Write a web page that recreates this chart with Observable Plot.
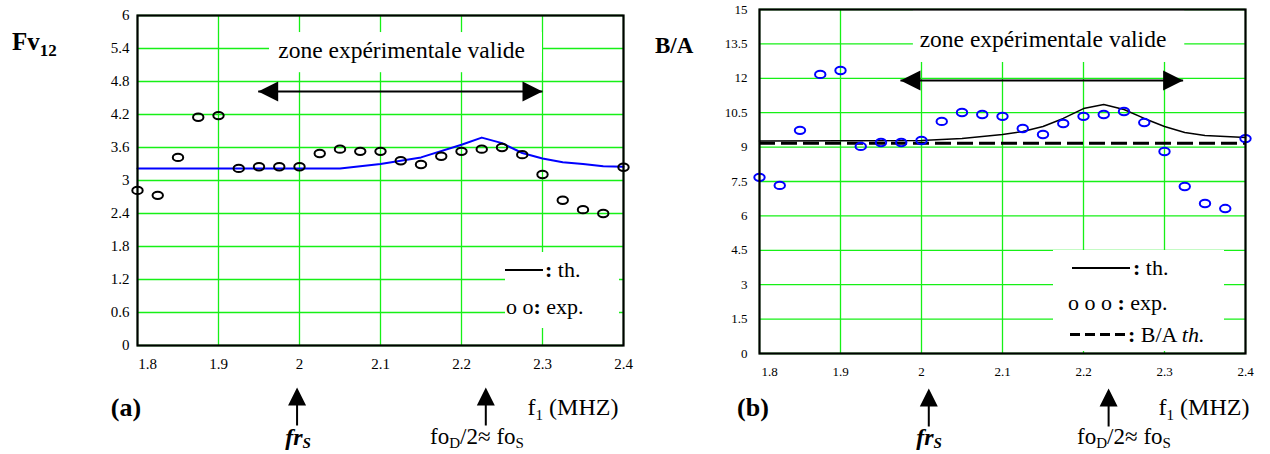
<!DOCTYPE html>
<html>
<head>
<meta charset="utf-8">
<script src="https://cdn.jsdelivr.net/npm/d3@7"></script>
<script src="https://cdn.jsdelivr.net/npm/@observablehq/plot@0.6"></script>
<style>
  body { margin: 0; background: #fff; }
  #wrap { position: relative; width: 1270px; height: 454px; overflow: hidden; font-family: "Liberation Serif", "Times New Roman", serif; color: #000; }
  #wrap svg { position: absolute; top: 0; }
  .t { position: absolute; white-space: nowrap; line-height: 1; }
  .c { transform: translate(-50%, -50%); }
  .lg { position: absolute; background: #fff; }
</style>
</head>
<body>
<div id="wrap"></div>
<script>
// ---------- data ----------
const freqs = [1.8, 1.825, 1.85, 1.875, 1.9, 1.925, 1.95, 1.975, 2.0, 2.025, 2.05, 2.075, 2.1,
               2.125, 2.15, 2.175, 2.2, 2.225, 2.25, 2.275, 2.3, 2.325, 2.35, 2.375, 2.4];
const fvExp = [2.82, 2.73, 3.42, 4.15, 4.18, 3.22, 3.25, 3.25, 3.25, 3.49, 3.57, 3.53, 3.53,
               3.36, 3.29, 3.44, 3.53, 3.57, 3.6, 3.47, 3.11, 2.64, 2.47, 2.4, 3.24];
const baExp = [7.68, 7.33, 9.73, 12.17, 12.34, 9.03, 9.2, 9.2, 9.29, 10.12, 10.51, 10.42, 10.34,
               9.81, 9.55, 10.03, 10.34, 10.42, 10.55, 10.07, 8.81, 7.28, 6.54, 6.32, 9.37];

const fvThFreq = [1.8, 2.05, 2.1, 2.15, 2.2, 2.225, 2.25, 2.275, 2.3, 2.325, 2.35, 2.375, 2.4];
const fvTh     = [3.22, 3.22, 3.3, 3.42, 3.65, 3.78, 3.68, 3.5, 3.4, 3.33, 3.3, 3.26, 3.25];

const baThFreq = [1.8, 2.0, 2.05, 2.1, 2.125, 2.15, 2.175, 2.2, 2.225, 2.25, 2.275, 2.3, 2.325, 2.35, 2.4];
const baTh     = [9.27, 9.29, 9.38, 9.55, 9.68, 9.9, 10.25, 10.68, 10.86, 10.64, 10.25, 9.9, 9.64, 9.51, 9.42];
const baThConst = 9.17;

const xTicks = [1.8, 1.9, 2.0, 2.1, 2.2, 2.3, 2.4];
const xTickLabels = ["1.8", "1.9", "2", "2.1", "2.2", "2.3", "2.4"];
const yTicksA = [0, 0.6, 1.2, 1.8, 2.4, 3.0, 3.6, 4.2, 4.8, 5.4, 6.0];
const yTickLabelsA = ["0", "0.6", "1.2", "1.8", "2.4", "3", "3.6", "4.2", "4.8", "5.4", "6"];
const yTicksB = [0, 1.5, 3, 4.5, 6, 7.5, 9, 10.5, 12, 13.5, 15];
const yTickLabelsB = ["0", "1.5", "3", "4.5", "6", "7.5", "9", "10.5", "12", "13.5", "15"];

// annotation values (frequencies)
const zoneA = {x1: 1.949, x2: 2.3, y: 4.62, tx: 2.126, ty: 5.36, bx1: 1.963, bx2: 2.3, by1: 4.96, by2: 5.69};
const zoneB = {x1: 1.974, x2: 2.323, y: 11.9, tx: 2.15, ty: 13.69, bx1: 1.99, bx2: 2.325, by1: 12.69, by2: 15};
const markFreqA = [1.997, 2.23];
const markFreqB = [2.009, 2.231];

// ---------- helpers ----------
const GRID = "#16f016";
const FONT = "Liberation Serif, Times New Roman, serif";
const fmtA = d => yTickLabelsA[yTicksA.findIndex(v => Math.abs(v - d) < 1e-9)];
const fmtB = d => yTickLabelsB[yTicksB.findIndex(v => Math.abs(v - d) < 1e-9)];
const fmtX = d => xTickLabels[xTicks.findIndex(v => Math.abs(v - d) < 1e-9)];

const ellipse = {draw(c) {
  const rx = 5.2, ry = 3.7, k = 0.5523;
  c.moveTo(rx, 0);
  c.bezierCurveTo(rx, ry * k, rx * k, ry, 0, ry);
  c.bezierCurveTo(-rx * k, ry, -rx, ry * k, -rx, 0);
  c.bezierCurveTo(-rx, -ry * k, -rx * k, -ry, 0, -ry);
  c.bezierCurveTo(rx * k, -ry, rx, -ry * k, rx, 0);
  c.closePath();
}};
const headLeft = {draw(c) { c.moveTo(0, 0); c.lineTo(20, -10); c.lineTo(20, 10); c.closePath(); }};
const headRight = {draw(c) { c.moveTo(0, 0); c.lineTo(-20, -10); c.lineTo(-20, 10); c.closePath(); }};
const upArrow = {draw(c) {
  c.moveTo(0, 0); c.lineTo(9, 18); c.lineTo(1, 18); c.lineTo(1, 38);
  c.lineTo(-1, 38); c.lineTo(-1, 18); c.lineTo(-9, 18); c.closePath();
}};

function panel({width, ml, mr, mt, mb, yDomain, yTicks, fmtY, yFont, xFont, xPad, yPad,
                exp, expColor, thFreq, th, thColor, thWidth, zone, marks, arrowDy, extra}) {
  const expData = freqs.map((f, i) => ({f, v: exp[i]}));
  const thData = thFreq.map((f, i) => ({f, v: th[i]}));
  return Plot.plot({
    width, height: 454,
    marginLeft: ml, marginRight: mr, marginTop: mt, marginBottom: mb,
    x: {domain: [1.8, 2.4]},
    y: {domain: yDomain},
    style: {fontFamily: FONT, background: "transparent", color: "#000"},
    marks: [
      Plot.gridX(xTicks, {stroke: GRID, strokeOpacity: 1, strokeWidth: 1.3}),
      Plot.gridY(yTicks, {stroke: GRID, strokeOpacity: 1, strokeWidth: 1.3}),
      Plot.rect([zone], {x1: "bx1", x2: "bx2", y1: "by1", y2: "by2", fill: "white"}),
      Plot.axisY(yTicks, {tickSize: 0, tickPadding: yPad, fontSize: yFont, tickFormat: fmtY, label: null}),
      Plot.axisX(xTicks.slice(1), {tickSize: 0, tickPadding: xPad, fontSize: xFont, tickFormat: fmtX, label: null}),
      Plot.axisX(xTicks.slice(0, 1), {tickSize: 0, tickPadding: xPad, fontSize: xFont, tickFormat: fmtX, label: null, dx: 10}),
      ...(extra || []),
      Plot.line(thData, {x: "f", y: "v", stroke: thColor, strokeWidth: thWidth}),
      Plot.dot(expData, {x: "f", y: "v", symbol: ellipse, r: 5, fill: "none", stroke: expColor, strokeWidth: 2}),
      Plot.frame({stroke: "black", strokeWidth: 2.2}),
      // zone expérimentale
      Plot.link([zone], {x1: "x1", x2: "x2", y1: "y", y2: "y", stroke: "black", strokeWidth: 2}),
      Plot.dot([zone], {x: "x1", y: "y", symbol: headLeft, fill: "black", stroke: "none"}),
      Plot.dot([zone], {x: "x2", y: "y", symbol: headRight, fill: "black", stroke: "none"}),
      Plot.text([zone], {x: "tx", y: "ty", text: () => "zone expérimentale valide", fontSize: 23.5, fill: "black"}),
      // frequency markers below the axis
      Plot.dot(marks, {x: d => d, frameAnchor: "bottom", dy: arrowDy, symbol: upArrow, fill: "black", stroke: "none"})
    ]
  });
}

const wrap = document.getElementById("wrap");

const svgA = panel({
  width: 640, ml: 137, mr: 17, mt: 15, mb: 109,
  yDomain: [0, 6], yTicks: yTicksA, fmtY: fmtA, yFont: 15, xFont: 15, xPad: 13, yPad: 8,
  exp: fvExp, expColor: "black", thFreq: fvThFreq, th: fvTh, thColor: "#0000ff", thWidth: 2,
  zone: zoneA, marks: markFreqA, arrowDy: 42
});
svgA.style.left = "0px";
wrap.appendChild(svgA);

const svgB = panel({
  width: 630, ml: 119, mr: 25, mt: 9, mb: 101,
  yDomain: [0, 15], yTicks: yTicksB, fmtY: fmtB, yFont: 13, xFont: 13, xPad: 13, yPad: 12,
  exp: baExp, expColor: "#0000ff", thFreq: baThFreq, th: baTh, thColor: "black", thWidth: 1.5,
  zone: zoneB, marks: markFreqB, arrowDy: 35,
  extra: [Plot.ruleY([baThConst], {stroke: "black", strokeWidth: 3, strokeDasharray: "16,6"})]
});
svgB.style.left = "640px";
wrap.appendChild(svgB);

// ---------- text overlays ----------
function add(html, style, cls = "t") {
  const d = document.createElement("div");
  d.className = cls;
  d.innerHTML = html;
  Object.assign(d.style, style);
  wrap.appendChild(d);
  return d;
}
// titles
add('Fv<span style="font-size:17px;position:relative;top:6px">12</span>',
    {left: "12px", top: "29px", fontSize: "25px", fontWeight: "bold"});
add('B/A', {left: "655px", top: "34px", fontSize: "23px", fontWeight: "bold"});
// panel letters and axis titles
add('(a)', {left: "126px", top: "408px", fontSize: "26px", fontWeight: "bold"}, "t c");
add('(b)', {left: "753px", top: "408px", fontSize: "26px", fontWeight: "bold"}, "t c");
add('f<span style="font-size:15px;position:relative;top:5px">1</span> (MHZ)', {left: "573px", top: "407px", fontSize: "24px"}, "t c");
add('f<span style="font-size:15px;position:relative;top:5px">1</span> (MHZ)', {left: "1204px", top: "407px", fontSize: "24px"}, "t c");
// marker labels
const frS = '<b><i>fr<span style="font-size:15px;position:relative;top:3px">S</span></i></b>';
const foS = 'fo<span style="font-size:15px;position:relative;top:4px">D</span>/2≈ fo<span style="font-size:15px;position:relative;top:4px">S</span>';
add(frS, {left: "298px", top: "437px", fontSize: "24px"}, "t c");
add(frS, {left: "929px", top: "437px", fontSize: "24px"}, "t c");
add(foS, {left: "477px", top: "436px", fontSize: "23px"}, "t c");
add(foS, {left: "1124px", top: "436px", fontSize: "23px"}, "t c");

// legends (white boxes)
add('', {left: "505px", top: "252px", width: "114px", height: "76px"}, "lg");
add('', {left: "505px", top: "269px", width: "38px", height: "2px", background: "#000"}, "lg");
add('<b>:</b> th.', {left: "545px", top: "259px", fontSize: "22px"});
add('o o<b>:</b> exp.', {left: "506px", top: "296px", fontSize: "22px"});

add('', {left: "1053px", top: "250px", width: "171px", height: "101px"}, "lg");
add('', {left: "1072px", top: "267px", width: "58px", height: "2px", background: "#000"}, "lg");
add('<b>:</b> th.', {left: "1133px", top: "257px", fontSize: "22px"});
add('o o o <b>:</b> exp.', {left: "1068px", top: "292px", fontSize: "22px"});
add('', {left: "1070px", top: "333px", width: "57px", height: "3px",
         background: "repeating-linear-gradient(90deg,#000 0 10px,transparent 10px 15px)"}, "lg");
add('<b>:</b> B/A <i>th.</i>', {left: "1128px", top: "324px", fontSize: "22px"});
</script>
</body>
</html>
